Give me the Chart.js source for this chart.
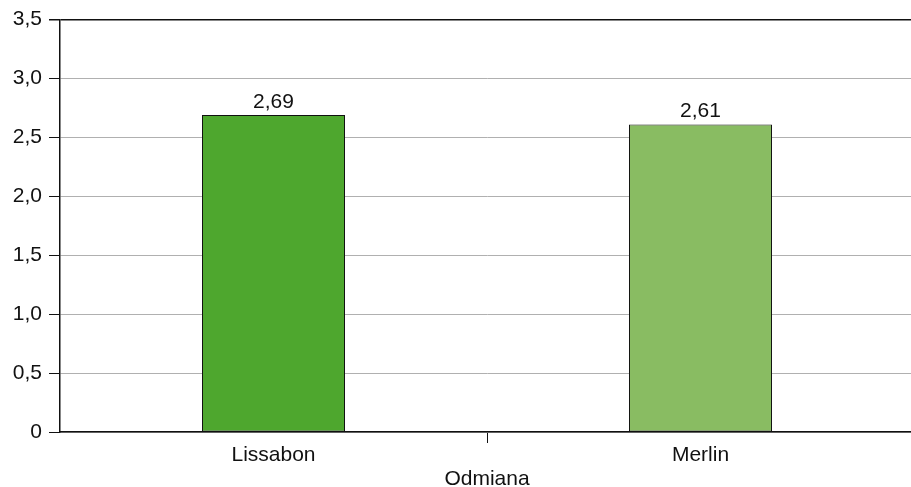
<!DOCTYPE html>
<html>
<head>
<meta charset="utf-8">
<script src="https://cdn.jsdelivr.net/npm/chart.js@4/dist/chart.umd.min.js"></script>
<style>
  html, body { margin: 0; padding: 0; background: #fff; overflow: hidden; }
  #wrap { width: 914px; height: 487px; }
</style>
</head>
<body>
<div id="wrap"><canvas id="c" width="914" height="487"></canvas></div>
<script>
// Varieties and their mean values
const categories = ['Lissabon', 'Merlin'];
const values = [2.69, 2.61];
const barColors = ['#4ea72e', '#89bc62'];
const axisTitle = 'Odmiana';

const FONT = 'Liberation Sans, Arial, Helvetica, sans-serif';
const FONT_SIZE = 21;
const fmt = v => v === 0 ? '0' : v.toFixed(1).replace('.', ',');

// Value labels above each bar
const valueLabels = {
  id: 'valueLabels',
  afterDatasetsDraw(chart) {
    const ctx = chart.ctx;
    const meta = chart.getDatasetMeta(0);
    ctx.save();
    ctx.font = FONT_SIZE + 'px ' + FONT;
    ctx.fillStyle = '#111';
    ctx.textAlign = 'center';
    ctx.textBaseline = 'alphabetic';
    meta.data.forEach((bar, i) => {
      const v = chart.data.datasets[0].data[i];
      ctx.fillText(v.toFixed(2).replace('.', ','), bar.x, bar.y - 7);
    });
    ctx.restore();
  }
};

new Chart(document.getElementById('c'), {
  type: 'bar',
  data: {
    labels: categories,
    datasets: [{
      data: values,
      backgroundColor: barColors,
      borderColor: '#111',
      borderWidth: 1,
      borderSkipped: false,
      barPercentage: 1,
      categoryPercentage: 0.335
    }]
  },
  options: {
    responsive: false,
    animation: false,
    layout: { padding: { top: 17, left: 0, right: 0, bottom: 0 } },
    plugins: { legend: { display: false }, tooltip: { enabled: false } },
    scales: {
      x: {
        grid: {
          offset: true,
          drawOnChartArea: false,
          drawTicks: true,
          tickLength: 11,
          tickColor: ctx => ctx.index === 0 ? 'rgba(0,0,0,0)' : '#111',
          lineWidth: 1
        },
        border: { display: true, color: '#111', width: 1.5 },
        ticks: { color: '#111', font: { family: FONT, size: FONT_SIZE }, padding: 0 },
        title: {
          display: true,
          text: axisTitle,
          color: '#111',
          font: { family: FONT, size: FONT_SIZE, lineHeight: 1 },
          padding: { top: 0, bottom: -3 }
        },
        afterFit(scale) { scale.height = 55; }
      },
      y: {
        min: 0,
        max: 3.5,
        ticks: {
          stepSize: 0.5,
          color: '#111',
          font: { family: FONT, size: FONT_SIZE },
          padding: 7,
          callback: v => fmt(v)
        },
        grid: {
          color: ctx => (ctx.tick && ctx.tick.value === 3.5) ? '#111' : '#b0b0b0',
          lineWidth: ctx => (ctx.tick && ctx.tick.value === 3.5) ? 1.5 : 1,
          tickColor: '#111',
          tickLength: 11
        },
        border: { display: true, color: '#111', width: 1.5 },
        afterFit(scale) { scale.width = 60; }
      }
    }
  },
  plugins: [valueLabels]
});
</script>
</body>
</html>
